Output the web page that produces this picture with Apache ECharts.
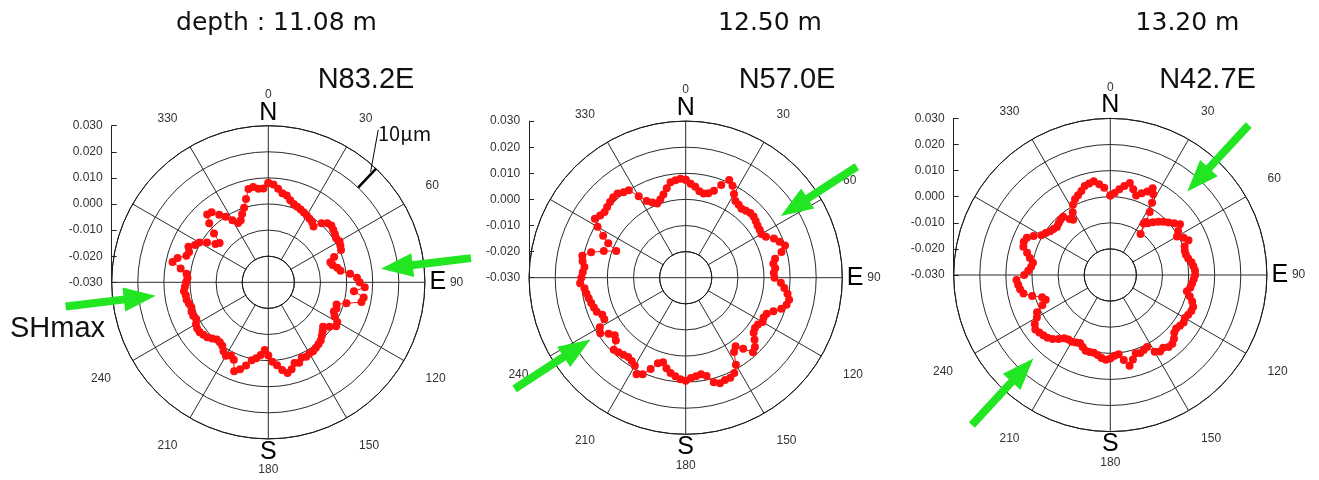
<!DOCTYPE html>
<html><head><meta charset="utf-8">
<script src="https://cdn.jsdelivr.net/npm/echarts@6/dist/echarts.min.js"></script>
<style>html,body{margin:0;padding:0;background:#fff}#c{width:1319px;height:480px}</style>
</head><body><div id="c"></div>
<script>
// ---------------- data ----------------
const TITLES = ['depth : 11.08 m', '12.50 m', '13.20 m'];
const SHMAX_LABELS = ['N83.2E', 'N57.0E', 'N42.7E'];
const SHMAX_AZIMUTH = [83.2, 57.0, 42.7];
const RADIAL_MIN = -0.03, RADIAL_MAX = 0.03, RADIAL_STEP = 0.01;
const ANGLE_STEP = 30;
const ANGLE_HIDDEN = [270, 300, 360];
const COMPASS = {0: 'N', 90: 'E', 180: 'S'};
// arrows: [tail radius, head-symbol centre radius] in axis units
const ARROW_RANGE = [0.0482, 0.0196];
// 10 um scale bar on first plot: [radius, azimuth]
const SCALE_BAR = [[0.02, 43.5], [0.03, 43.5]];
const SCALE_LEADER = [[0.0277, 42.8], [0.042, 35.8]];
const SCALE_TEXT = '10\u03bcm';

// profiles: [azimuth deg, radius]
const PROFILE_1108 = [[0,.0080],[3,.0075],[6,.0060],[9,.0045],[12,.0040],[15,.0025],[18,.0015],[21,.0010],[24,.0005],[27,.0000],[30,-.0005],[33,-.0010],[36,-.0015],[39,-.0025],[42,.0005],[45,.0020],[48,.0025],[51,.0020],[54,.0015],[57,.0010],[60,.0015],[63,.0010],[66,.0005],[69,-.0030],[72,-.0050],[75,-.0045],[78,-.0030],[81,-.0020],[84,.0015],[87,.0040],[90,.0050],[93,.0070],[96,.0030],[99,.0070],[102,.0065],[105,.0010],[108,-.0025],[111,-.0020],[114,-.0025],[117,-.0015],[120,.0005],[123,.0010],[126,-.0010],[129,-.0030],[132,-.0020],[135,-.0010],[138,.0000],[141,.0005],[144,.0010],[147,.0015],[150,.0015],[153,.0020],[156,.0015],[159,.0030],[162,.0025],[165,.0045],[168,.0055],[171,.0040],[174,.0020],[177,.0005],[180,-.0020],[183,-.0040],[186,-.0020],[189,-.0005],[192,.0005],[195,.0030],[198,.0050],[201,.0065],[204,.0025],[207,.0015],[210,.0025],[213,.0015],[216,.0000],[219,-.0005],[222,-.0005],[225,.0005],[228,.0015],[231,.0020],[234,.0025],[237,.0025],[240,.0020],[243,.0010],[246,.0015],[249,.0015],[252,.0010],[255,.0015],[258,.0020],[261,.0020],[264,.0025],[267,.0020],[270,.0015],[273,.0010],[276,.0015],[279,.0040],[282,.0075],[285,.0060],[288,.0030],[291,.0025],[294,.0035],[297,.0015],[300,.0005],[303,-.0020],[306,-.0050],[309,-.0060],[312,-.0020],[315,.0020],[318,.0050],[321,.0045],[324,.0020],[327,.0000],[330,-.0025],[333,-.0045],[336,-.0040],[339,-.0020],[342,.0000],[345,.0030],[348,.0065],[351,.0070],[354,.0060],[357,.0060]];
const PROFILE_1250 = [[0,.0075],[3,.0060],[6,.0050],[9,.0035],[12,.0030],[15,.0035],[18,.0050],[21,.0080],[24,.0110],[27,.0095],[30,.0070],[33,.0050],[36,.0045],[39,.0040],[42,.0045],[45,.0050],[48,.0050],[51,.0045],[54,.0040],[57,.0038],[60,.0035],[63,.0045],[66,.0070],[69,.0085],[72,.0100],[75,.0080],[78,.0050],[81,.0040],[84,.0045],[87,.0038],[90,.0040],[93,.0065],[96,.0080],[99,.0095],[102,.0105],[105,.0100],[108,.0085],[111,.0060],[114,.0040],[117,.0035],[120,.0040],[123,.0030],[126,.0028],[129,.0035],[132,.0055],[135,.0075],[138,.0085],[141,.0050],[144,.0025],[147,.0040],[150,.0085],[153,.0110],[156,.0120],[159,.0120],[162,.0125],[165,.0115],[168,.0085],[171,.0075],[174,.0080],[177,.0085],[180,.0095],[183,.0090],[186,.0080],[189,.0070],[192,.0055],[195,.0035],[198,.0045],[201,.0075],[204,.0105],[207,.0115],[210,.0090],[213,.0080],[216,.0075],[219,.0080],[222,.0085],[225,.0090],[228,.0060],[231,.0050],[234,.0065],[237,.0090],[240,.0080],[243,.0050],[246,.0050],[249,.0065],[252,.0070],[255,.0075],[258,.0080],[261,.0085],[264,.0090],[267,.0105],[270,.0100],[273,.0095],[276,.0090],[279,.0100],[282,.0105],[285,.0075],[288,.0030],[291,-.0015],[294,.0025],[297,.0055],[300,.0090],[303,.0115],[306,.0105],[309,.0100],[312,.0105],[315,.0110],[318,.0115],[321,.0115],[324,.0105],[327,.0100],[330,.0060],[333,.0030],[336,.0015],[339,.0005],[342,.0015],[345,.0030],[348,.0050],[351,.0070],[354,.0075],[357,.0080]];
const PROFILE_1320 = [[0,.0005],[3,.0015],[6,.0030],[9,.0045],[12,.0060],[15,.0040],[18,.0020],[21,.0035],[24,.0050],[26,.0070],[28,.0050],[30,.0020],[32,-.0015],[34,-.0055],[36.5,-.0105],[33,-.0065],[36,-.0055],[39,-.0040],[42,-.0025],[45,-.0012],[48,.0000],[51,.0015],[54,.0030],[57,.0010],[60,-.0005],[63,.0015],[66,.0028],[69,.0005],[72,.0000],[75,.0000],[78,.0005],[81,.0015],[84,.0020],[87,.0025],[90,.0025],[93,.0020],[96,.0015],[99,.0010],[102,.0000],[105,.0015],[108,.0030],[111,.0040],[114,.0040],[117,.0035],[120,.0030],[123,.0035],[126,.0030],[129,.0025],[132,.0030],[135,.0045],[138,.0055],[141,.0055],[144,.0045],[147,.0050],[150,.0040],[153,.0010],[156,.0015],[159,.0020],[162,.0015],[165,.0035],[168,.0055],[171,.0030],[174,.0005],[177,.0010],[180,.0020],[183,.0025],[186,.0020],[189,.0010],[192,.0005],[195,.0005],[198,.0005],[201,-.0005],[204,-.0015],[207,-.0010],[210,-.0005],[213,-.0005],[216,.0000],[219,.0015],[222,.0030],[225,.0040],[228,.0045],[231,.0050],[234,.0055],[237,.0045],[240,.0025],[243,.0015],[246,-.0015],[249,-.0035],[252,-.0025],[255,.0010],[258,.0040],[261,.0050],[264,.0055],[267,.0060],[270,.0030],[273,.0015],[276,.0005],[279,.0000],[282,.0015],[285,.0030],[288,.0050],[291,.0055],[294,.0050],[297,.0030],[300,.0005],[303,-.0005],[306,-.0015],[309,-.0020],[312,-.0025],[315,-.0020],[318,-.0015],[321,-.0013],[324,-.0035],[326,-.0045],[329,-.0020],[332,.0005],[335,.0020],[338,.0030],[341,.0040],[344,.0055],[347,.0060],[350,.0065],[353,.0050],[356,.0035]];
const PROFILES = [PROFILE_1108, PROFILE_1250, PROFILE_1320];

// ---------------- layout ----------------
const CENTERS = [[268.3, 282.3], [685.7, 277.7], [1110.3, 275.0]];
const R_OUT = 156.6;
const R_IN = R_OUT / 6;
const TITLE_POS = [[276.5, 23], [770, 23], [1187.5, 23]];
const SH_POS = [[366, 80], [787, 80], [1207.5, 80]];
const RED = '#ff0f0f', GREEN = '#22e622', GRIDC = '#2b2b2b';

const polar = [], angleAxis = [], radiusAxis = [], series = [], grid = [], xAxis = [], yAxis = [], graphic = [];

CENTERS.forEach((c, i) => {
  const pA = 3 * i, pB = 3 * i + 1, pC = 3 * i + 2;
  polar.push({center: c, radius: [R_IN, R_OUT]});
  polar.push({center: c, radius: [0, R_IN]});
  polar.push({center: c, radius: [0, R_OUT * 1.5]});

  angleAxis.push({
    polarIndex: pA, type: 'value', min: 0, max: 360, interval: ANGLE_STEP, startAngle: 90, clockwise: true,
    axisLine: {show: true, lineStyle: {color: '#1a1a1a', width: 1}},
    axisTick: {show: false},
    axisLabel: {show: true, margin: 25, fontSize: 12, color: '#333', fontFamily: 'Liberation Sans',
      formatter: v => ANGLE_HIDDEN.indexOf(Math.round(v)) >= 0 ? '' : String(Math.round(v))},
    splitLine: {show: true, lineStyle: {color: GRIDC, width: 1}}
  });
  radiusAxis.push({
    polarIndex: pA, type: 'value', min: RADIAL_MIN + RADIAL_STEP, max: RADIAL_MAX, interval: RADIAL_STEP,
    axisLine: {show: false}, axisTick: {show: false}, axisLabel: {show: false},
    splitLine: {show: true, lineStyle: {color: GRIDC, width: 1}}
  });

  angleAxis.push({
    polarIndex: pB, type: 'value', min: 0, max: 360, interval: 90, startAngle: 90, clockwise: true,
    axisLine: {show: false}, axisTick: {show: false},
    axisLabel: {show: true, margin: 131, fontSize: 25, color: '#000', fontFamily: 'Liberation Sans',
      formatter: v => { const t = COMPASS[Math.round(v)] || ''; return t === 'E' ? '{e|E}' : t; },
      rich: {e: {fontSize: 25, color: '#000', fontFamily: 'Liberation Sans', padding: [0, 0, 0, 4]}}},
    splitLine: {show: true, lineStyle: {color: GRIDC, width: 1}}
  });
  radiusAxis.push({
    polarIndex: pB, type: 'value', min: RADIAL_MIN, max: RADIAL_MIN + RADIAL_STEP,
    axisLine: {show: false}, axisTick: {show: false}, axisLabel: {show: false}, splitLine: {show: false}
  });

  angleAxis.push({polarIndex: pC, type: 'value', min: 0, max: 360, startAngle: 90, clockwise: true, show: false});
  radiusAxis.push({polarIndex: pC, type: 'value', min: RADIAL_MIN, max: RADIAL_MIN + 0.09, show: false});

  // radial scale on the left
  grid.push({left: c[0] - R_OUT, top: c[1] - R_OUT, width: R_OUT, height: R_OUT});
  xAxis.push({gridIndex: i, type: 'value', min: 0, max: 1, show: false});
  yAxis.push({
    gridIndex: i, type: 'value', min: RADIAL_MIN, max: RADIAL_MAX, interval: RADIAL_STEP, position: 'left',
    axisLine: {show: true, onZero: false, lineStyle: {color: '#222', width: 1}},
    axisTick: {show: true, inside: true, length: 5, lineStyle: {color: '#222'}},
    axisLabel: {margin: 9, fontSize: 12, color: '#333', fontFamily: 'Liberation Sans',
      formatter: v => Math.abs(v) < 1e-9 ? '0.000' : v.toFixed(3)},
    splitLine: {show: false}
  });

  const prof = PROFILES[i];
  const pts = prof.map(p => [p[1], p[0]]);
  pts.push(pts[0]);
  series.push({
    type: 'line', coordinateSystem: 'polar', polarIndex: pA, data: pts,
    symbol: 'circle', symbolSize: 8, showSymbol: true, showAllSymbol: true,
    itemStyle: {color: RED}, lineStyle: {color: RED, width: 1}, silent: true, z: 5, clip: false
  });

  const az = SHMAX_AZIMUTH[i];
  const arrowLines = [az, az + 180].map(a => [
    {coord: [ARROW_RANGE[0], a], lineStyle: {color: GREEN, width: 8, type: 'solid'}},
    {coord: [ARROW_RANGE[1], a], symbol: 'triangle', symbolSize: [24, 32]}
  ]);
  const ml = arrowLines.slice();
  if (i === 0) {
    ml.push([{coord: SCALE_BAR[0], lineStyle: {color: '#000', width: 2.5, type: 'solid'}}, {coord: SCALE_BAR[1]}]);
    ml.push([{coord: SCALE_LEADER[0], lineStyle: {color: '#000', width: 1, type: 'solid'}}, {coord: SCALE_LEADER[1]}]);
  }
  series.push({
    type: 'line', coordinateSystem: 'polar', polarIndex: pC, data: [], silent: true, z: 6,
    markLine: {silent: true, animation: false, symbol: ['none', 'none'], label: {show: false},
      emphasis: {disabled: true}, lineStyle: {type: 'solid'}, data: ml}
  });

  graphic.push({type: 'text', x: TITLE_POS[i][0], y: TITLE_POS[i][1],
    style: {text: TITLES[i], fontSize: 25, fontFamily: 'DejaVu Sans', fill: '#111',
      align: 'center', verticalAlign: 'middle', textAlign: 'center', textVerticalAlign: 'middle'}});
  graphic.push({type: 'text', x: SH_POS[i][0], y: SH_POS[i][1],
    style: {text: SHMAX_LABELS[i], fontSize: 29, fontFamily: 'Liberation Sans', fill: '#111',
      align: 'center', verticalAlign: 'middle', textAlign: 'center', textVerticalAlign: 'middle'}});
});

graphic.push({type: 'text', x: 10, y: 329,
  style: {text: 'SHmax', fontSize: 29, fontFamily: 'Liberation Sans', fill: '#111',
    align: 'left', verticalAlign: 'middle', textAlign: 'left', textVerticalAlign: 'middle'}});
graphic.push({type: 'text', x: 378, y: 133,
  style: {text: SCALE_TEXT, fontSize: 20, fontFamily: 'Noto Sans CJK JP', fill: '#111',
    align: 'left', verticalAlign: 'middle', textAlign: 'left', textVerticalAlign: 'middle'}});

const chart = echarts.init(document.getElementById('c'), null, {renderer: 'canvas', width: 1319, height: 480});
chart.setOption({
  animation: false, backgroundColor: '#fff',
  polar, angleAxis, radiusAxis, grid, xAxis, yAxis, series, graphic
});
</script></body></html>
